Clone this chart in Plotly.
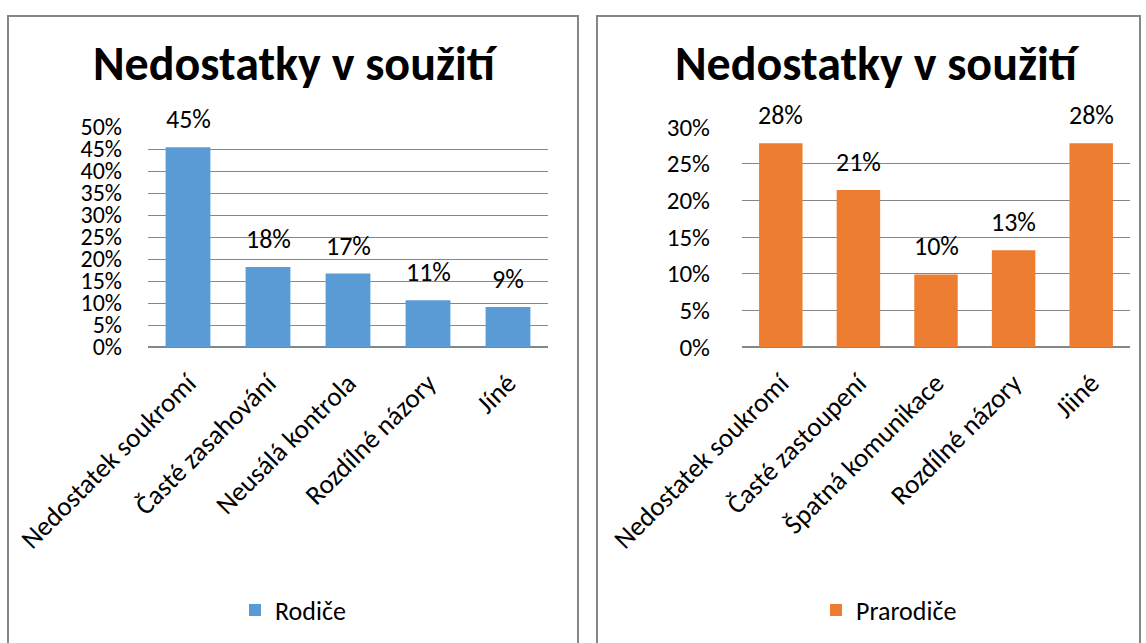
import plotly.graph_objects as go

title_text = "Nedostatky v soužití"

left_categories = ["Nedostatek soukromí", "Časté zasahování", "Neusálá kontrola", "Rozdílné názory", "Jíné"]
left_values = [0.454, 0.182, 0.167, 0.106, 0.091]
left_name = "Rodiče"

right_categories = ["Nedostatek soukromí", "Časté zastoupení", "Špatná komunikace", "Rozdílné názory", "Jiiné"]
right_values = [0.278, 0.214, 0.099, 0.132, 0.278]
right_name = "Prarodiče"

left_ticks = [i / 100 for i in range(0, 51, 5)]
right_ticks = [i / 100 for i in range(0, 31, 5)]

FONT = "Carlito, Lato, sans-serif"
BLUE = "#5B9BD5"
ORANGE = "#ED7D31"
GRID = "#868686"

fig = go.Figure()
fig.add_trace(go.Bar(x=left_categories, y=left_values, name=left_name, marker_color=BLUE,
                     xaxis="x", yaxis="y", legend="legend", hoverinfo="skip"))
fig.add_trace(go.Bar(x=right_categories, y=right_values, name=right_name, marker_color=ORANGE,
                     xaxis="x2", yaxis="y2", legend="legend2", hoverinfo="skip"))

W, H = 1146, 643
ytop, ybot = 127, 347

def px(x):
    return x / W

def py(y):
    return 1 - y / H

cat_font = dict(family=FONT, size=27, color="#000000")
label_font = dict(family=FONT, size=26, color="#000000")
ytick_left = dict(family=FONT, size=24, color="#000000")
ytick_right = dict(family=FONT, size=25, color="#000000")

fig.update_layout(
    template="none",
    width=W, height=H,
    margin=dict(l=0, r=0, t=0, b=0, autoexpand=False),
    paper_bgcolor="white", plot_bgcolor="white",
    bargap=0.44,
    font=dict(family=FONT, color="#000000"),
    xaxis=dict(domain=[px(148), px(548)], anchor="y", tickangle=-45, tickfont=cat_font,
               showgrid=False, showline=False, ticks="", fixedrange=True, automargin=False,
               ticklabelstandoff=14),
    yaxis=dict(domain=[py(ybot), py(ytop)], anchor="x", range=[0, 0.5], tickvals=left_ticks,
               tickformat=".0%", tickfont=ytick_left, showgrid=True, gridcolor=GRID, gridwidth=1,
               zeroline=True, zerolinecolor=GRID, zerolinewidth=2, showline=False, ticks="",
               ticklabelstandoff=25, fixedrange=True, automargin=False),
    xaxis2=dict(domain=[px(742), px(1130)], anchor="y2", tickangle=-45, tickfont=cat_font,
                showgrid=False, showline=False, ticks="", fixedrange=True, automargin=False,
                ticklabelstandoff=14),
    yaxis2=dict(domain=[py(ybot), py(ytop)], anchor="x2", range=[0, 0.3], tickvals=right_ticks,
                tickformat=".0%", tickfont=ytick_right, showgrid=True, gridcolor=GRID, gridwidth=1,
                zeroline=True, zerolinecolor=GRID, zerolinewidth=2, showline=False, ticks="",
                ticklabelstandoff=31, fixedrange=True, automargin=False),
    legend=dict(x=px(293), y=py(610), xanchor="center", yanchor="middle", orientation="h",
                font=dict(family=FONT, size=26, color="#000000"), bgcolor="rgba(0,0,0,0)"),
    legend2=dict(x=px(889), y=py(610), xanchor="center", yanchor="middle", orientation="h",
                 font=dict(family=FONT, size=26, color="#000000"), bgcolor="rgba(0,0,0,0)"),
    showlegend=True,
)

annotations = []
for cats, vals, xr, yr in [(left_categories, left_values, "x", "y"),
                           (right_categories, right_values, "x2", "y2")]:
    for c, v in zip(cats, vals):
        annotations.append(dict(x=c, y=v, xref=xr, yref=yr, text=f"{round(v * 100)}%",
                                showarrow=False, yanchor="bottom", yshift=10,
                                font=label_font))

annotations.append(dict(x=px(295), y=py(64), xref="paper", yref="paper", text=f"<b>{title_text}</b>",
                        showarrow=False, xanchor="center", yanchor="middle",
                        font=dict(family=FONT, size=48, color="#000000")))
annotations.append(dict(x=px(877), y=py(64), xref="paper", yref="paper", text=f"<b>{title_text}</b>",
                        showarrow=False, xanchor="center", yanchor="middle",
                        font=dict(family=FONT, size=48, color="#000000")))
fig.update_layout(annotations=annotations)

shapes = []
for x0, x1 in [(8, 578), (597, 1140)]:
    shapes.append(dict(type="rect", xref="paper", yref="paper", x0=px(x0), x1=px(x1),
                       y0=py(700), y1=py(16), line=dict(color=GRID, width=2), fillcolor="rgba(0,0,0,0)",
                       layer="below"))
fig.update_layout(shapes=shapes)

fig.write_html("out.html", config={"displayModeBar": False},
               post_script="document.body.style.margin='0';document.body.style.overflow='hidden';")
